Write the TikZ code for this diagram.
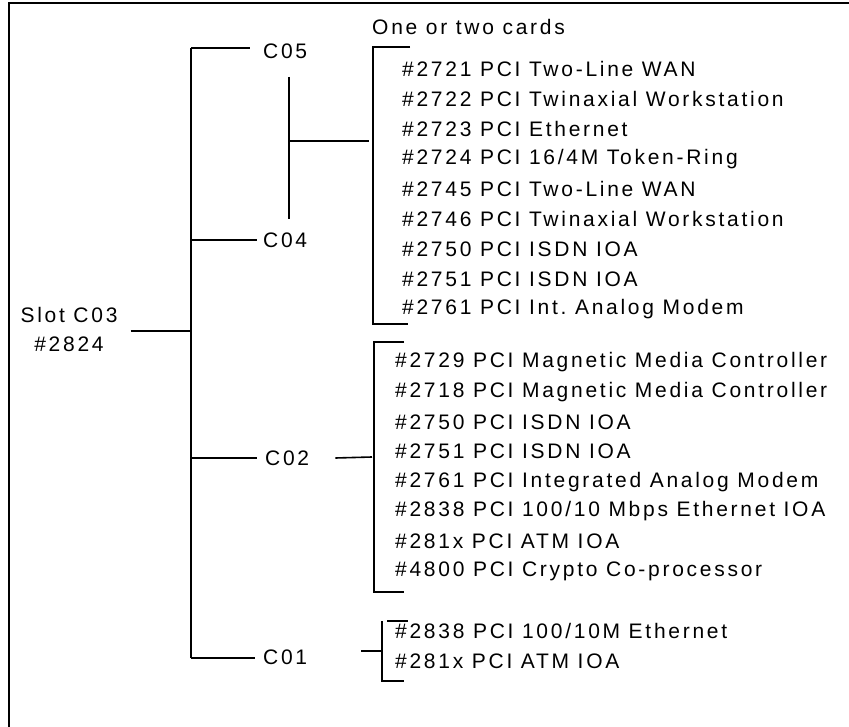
\documentclass[tikz,border=0pt]{standalone}
\usepackage{fontspec}
\setmainfont{Liberation Sans}[LetterSpace=13]
\usetikzlibrary{positioning}
\frenchspacing

\tikzset{
  slotlabel/.style={inner sep=0pt,font=\fontsize{21}{29}\selectfont},
  cardtext/.style={anchor=west,inner sep=0pt,font=\fontsize{21}{25}\selectfont},
  wire/.style={line width=1.6pt}
}

\begin{document}
\begin{tikzpicture}[x=1pt,y=-1pt]
    \useasboundingbox (0,0) rectangle (849,727);
    % frame (only top and left edge show)
    \draw[line width=1.5pt] (9,727) -- (9,3) -- (849,3);

    % slots
    \node[slotlabel,align=center] (slot) at (69,329) {Slot C03\\\#2824};
    \node[cardtext] (c05) at (263,51) {C05};
    \node[cardtext] (c04) at (263,240) {C04};
    \node[cardtext] (c02) at (265,458) {C02};
    \node[cardtext] (c01) at (263,657) {C01};

    \coordinate (tTop) at (191,48);
    \coordinate (tBot) at (191,658);
    \coordinate (tMid) at (191,331);
    \coordinate (jn) at (289,141);

    \draw[wire] (tTop) -- (tBot);
    \draw[wire] (slot.east |- tMid) ++(13,0) -- (tMid);
    \draw[wire] (tTop) -- ([xshift=-13pt]c05.west |- tTop);
    \draw[wire] (tTop |- c04) -- ([xshift=-6pt]c04.west);
    \draw[wire] (tTop |- c02) -- ([xshift=-8pt]c02.west);
    \draw[wire] (tBot) -- ([xshift=-8pt]c01.west |- tBot);
    \draw[wire] (jn |- 0,77) -- (jn |- 0,219);

    % one or two cards
    \node[cardtext] (note) at (372,27) {One or two cards};
    \foreach \t [count=\i from 0] in {%
        \#2721 PCI Two-Line WAN,
        \#2722 PCI Twinaxial Workstation,
        \#2723 PCI Ethernet,
        \#2724 PCI 16/4M Token-Ring,
        \#2745 PCI Two-Line WAN,
        \#2746 PCI Twinaxial Workstation,
        \#2750 PCI ISDN IOA,
        \#2751 PCI ISDN IOA,
        \#2761 PCI Int. Analog Modem}
      \node[cardtext] (a\i) at (402,69+30*\i) {\t};
    \draw[wire] (410,47) -- (373,47) -- (373,324) -- (408,324);
    \draw[wire] (jn) -- (369,141);

    % C02 cards
    \foreach \t [count=\i from 0] in {%
        \#2729 PCI Magnetic Media Controller,
        \#2718 PCI Magnetic Media Controller,
        \#2750 PCI ISDN IOA,
        \#2751 PCI ISDN IOA,
        \#2761 PCI Integrated Analog Modem,
        \#2838 PCI 100/10 Mbps Ethernet IOA,
        \#281x PCI ATM IOA,
        \#4800 PCI Crypto Co-processor}
      \node[cardtext] (b\i) at (395,362+29.9*\i) {\t};
    \draw[wire] (404,342) -- (374,342) -- (374,592) -- (404,592);
    \draw[wire] ([xshift=26pt]c02.east) -- (372,457);

    % C01 cards
    \node[cardtext] (d0) at (395,631) {\#2838 PCI 100/10M Ethernet};
    \node[cardtext] (d1) at (395,661) {\#281x PCI ATM IOA};
    \draw[wire] (387,621) -- (408,621);
    \draw[wire] (382,621) -- (382,681) -- (404,681);
    \draw[wire] (361,651) -- (382,651);
\end{tikzpicture}
\end{document}
